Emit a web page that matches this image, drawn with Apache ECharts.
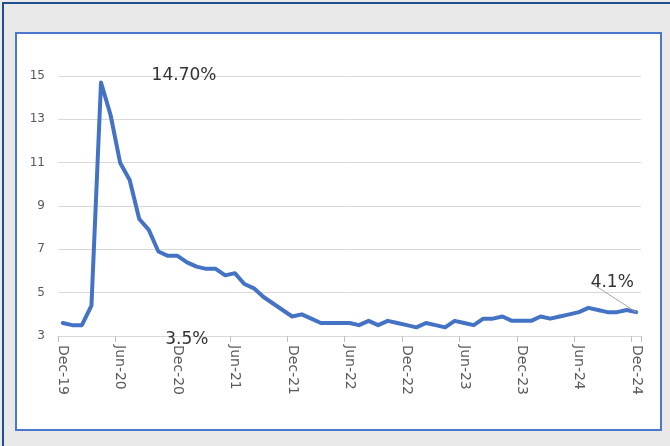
<!DOCTYPE html>
<html>
<head>
<meta charset="utf-8">
<script src="https://cdn.jsdelivr.net/npm/echarts@6/dist/echarts.min.js"></script>
<style>
  html, body { margin: 0; padding: 0; }
  body { width: 670px; height: 446px; overflow: hidden; background: #e9e9e9; position: relative; }
  #outer { position: absolute; left: 2px; top: 2px; width: 700px; height: 500px; border-top: 2px solid #1f4e8f; border-left: 2px solid #1f4e8f; box-sizing: border-box; }
  #frame { position: absolute; left: 15px; top: 32px; width: 647px; height: 399px; border: 2px solid #4a78cc; box-sizing: border-box; background: #fff; }
  #chart { position: absolute; left: 0; top: 0; width: 643px; height: 395px; }
</style>
</head>
<body>
<div id="outer"></div>
<div id="frame"><div id="chart"></div></div>
<script>
const categories = [
  "Dec-19",
  "Jan-20","Feb-20","Mar-20","Apr-20","May-20","Jun-20","Jul-20","Aug-20","Sep-20","Oct-20","Nov-20","Dec-20",
  "Jan-21","Feb-21","Mar-21","Apr-21","May-21","Jun-21","Jul-21","Aug-21","Sep-21","Oct-21","Nov-21","Dec-21",
  "Jan-22","Feb-22","Mar-22","Apr-22","May-22","Jun-22","Jul-22","Aug-22","Sep-22","Oct-22","Nov-22","Dec-22",
  "Jan-23","Feb-23","Mar-23","Apr-23","May-23","Jun-23","Jul-23","Aug-23","Sep-23","Oct-23","Nov-23","Dec-23",
  "Jan-24","Feb-24","Mar-24","Apr-24","May-24","Jun-24","Jul-24","Aug-24","Sep-24","Oct-24","Nov-24","Dec-24"
];
const unemploymentRate = [
  3.6,
  3.5, 3.5, 4.4, 14.7, 13.2, 11.0, 10.2, 8.4, 7.9, 6.9, 6.7, 6.7,
  6.4, 6.2, 6.1, 6.1, 5.8, 5.9, 5.4, 5.2, 4.8, 4.5, 4.2, 3.9,
  4.0, 3.8, 3.6, 3.6, 3.6, 3.6, 3.5, 3.7, 3.5, 3.7, 3.6, 3.5,
  3.4, 3.6, 3.5, 3.4, 3.7, 3.6, 3.5, 3.8, 3.8, 3.9, 3.7, 3.7,
  3.7, 3.9, 3.8, 3.9, 4.0, 4.1, 4.3, 4.2, 4.1, 4.1, 4.2, 4.1
];
const yTicks = { min: 3, max: 15, interval: 2 };
// annotated points: index in series -> label text
const annotations = [
  { index: 4, text: "14.70%" },
  { index: 2, text: "3.5%" },
  { index: 60, text: "4.1%" }
];
const annotationShift = { 4: [83, 7], 2: [105, 28], 60: [-24, -16] };

const seriesData = unemploymentRate.map((v, i) => {
  const a = annotations.find(x => x.index === i);
  if (!a) return v;
  return {
    value: v,
    label: { show: true, formatter: a.text },
    labelLine: { show: i === 60 }
  };
});

const chart = echarts.init(document.getElementById('chart'), null, { renderer: 'canvas' });
chart.setOption({
  animation: false,
  backgroundColor: '#ffffff',
  grid: { left: 41, right: 19, top: 42, bottom: 93, containLabel: false },
  xAxis: {
    type: 'category',
    data: categories,
    boundaryGap: true,
    axisLine: { show: true, lineStyle: { color: '#d9d9d9', width: 1 } },
    axisTick: { show: true, interval: 5, length: 6, lineStyle: { color: '#bfbfbf' } },
    axisLabel: {
      interval: 5, rotate: -90, margin: 9,
      color: '#595959', fontSize: 14, fontFamily: 'DejaVu Sans'
    },
    splitLine: { show: false }
  },
  yAxis: {
    type: 'value',
    min: yTicks.min, max: yTicks.max, interval: yTicks.interval,
    axisLine: { show: false },
    axisTick: { show: false },
    axisLabel: { color: '#595959', fontSize: 12, fontFamily: 'DejaVu Sans', margin: 13 },
    splitLine: { show: true, lineStyle: { color: '#d9d9d9', width: 1 } }
  },
  series: [{
    type: 'line',
    data: seriesData,
    showSymbol: true,
    symbol: 'circle',
    symbolSize: 0,
    silent: true,
    lineStyle: { color: '#4472c4', width: 4, join: 'round', cap: 'round' },
    itemStyle: { color: '#4472c4' },
    label: {
      show: false, position: 'top', distance: 5,
      color: '#333333', fontSize: 17, fontFamily: 'DejaVu Sans'
    },
    labelLine: { show: false, lineStyle: { color: '#a6a6a6', width: 1 } },
    labelLayout: function (params) {
      const s = annotationShift[params.dataIndex];
      if (!s) return {};
      return { dx: s[0], dy: s[1] };
    }
  }]
});
</script>
</body>
</html>
